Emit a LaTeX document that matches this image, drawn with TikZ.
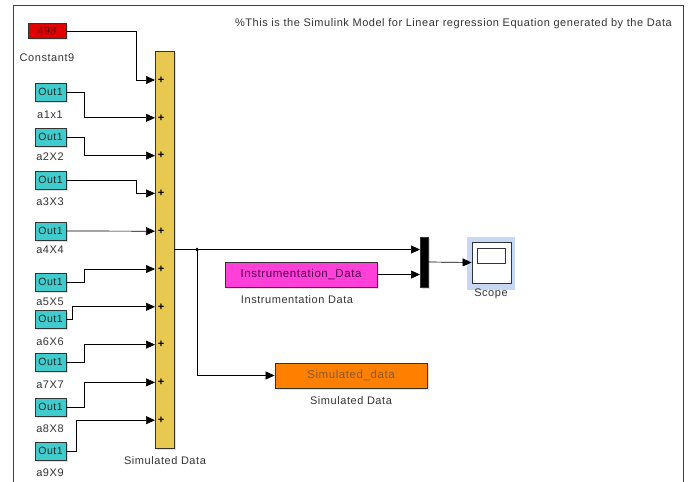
\documentclass[tikz,border=0pt]{standalone}
\usepackage{fontspec}
\setmainfont{Liberation Sans}
\newfontfamily\spacedfont[LetterSpace=5]{Liberation Sans}
\usetikzlibrary{arrows.meta,shadows}
\definecolor{outcyan}{HTML}{40CCCC}
\definecolor{constred}{HTML}{E00000}
\definecolor{sumyellow}{HTML}{E8C850}
\definecolor{instrpink}{HTML}{FF40D8}
\definecolor{simorange}{HTML}{FF8000}
\definecolor{scopeblue}{HTML}{C8D8F4}
\begin{document}
\begin{tikzpicture}[x=1pt,y=-1pt,
      blk/.style={rectangle,draw=black!80,line width=0.8pt,inner sep=0pt,drop shadow={opacity=0.25,shadow xshift=1.5pt,shadow yshift=-1.5pt},font=\spacedfont\fontsize{10.5}{12}\selectfont},
      outblk/.style={blk,fill=outcyan,minimum width=31pt,minimum height=18pt,text=black!85},
      wideblk/.style={blk,minimum width=152pt,minimum height=25pt,font=\spacedfont\fontsize{11.5}{13}\selectfont},
      lbl/.style={inner sep=0pt,font=\spacedfont\fontsize{11}{13}\selectfont,text=black!80},
      plus/.style={inner sep=0pt,font=\bfseries\fontsize{11}{11}\selectfont},
      arr/.style={-{Triangle[length=9pt,width=8pt]},line width=0.7pt}
    ]
      \useasboundingbox (0,0) rectangle (691,482);
      % frame
      \draw[black!75,line width=1pt] (13,482) -- (13,5) -- (683,5) -- (683,482);
      \node[lbl,anchor=east] (title) at (672,24) {\%This is the Simulink Model for Linear regression Equation generated by the Data};

      % sources
      \node[blk,fill=constred,minimum width=38pt,minimum height=15pt,text=red!35!black] (c9) at (47,31) {498};
      \node[lbl] (lc9) at (47,58) {Constant9};
      \node[outblk] (o1) at (50.5,92)  {Out1}; \node[lbl] (l1) at (50,115) {a1x1};
      \node[outblk] (o2) at (50.5,137) {Out1}; \node[lbl] (l2) at (50,157) {a2X2};
      \node[outblk] (o3) at (50.5,180) {Out1}; \node[lbl] (l3) at (50,202) {a3X3};
      \node[outblk] (o4) at (50.5,231) {Out1}; \node[lbl] (l4) at (50,250) {a4X4};
      \node[outblk] (o5) at (50.5,282) {Out1}; \node[lbl] (l5) at (50,302) {a5X5};
      \node[outblk] (o6) at (50.5,319) {Out1}; \node[lbl] (l6) at (50,342) {a6X6};
      \node[outblk] (o7) at (50.5,362) {Out1}; \node[lbl] (l7) at (50,385) {a7X7};
      \node[outblk] (o8) at (50.5,407) {Out1}; \node[lbl] (l8) at (50,429) {a8X8};
      \node[outblk] (o9) at (50.5,451) {Out1}; \node[lbl] (l9) at (50,473) {a9X9};

      % sum block
      \node[blk,fill=sumyellow,minimum width=19pt,minimum height=397pt] (sum) at (164.5,249.5) {};
      \node[lbl] (lsum) at (165,461) {Simulated Data};
      \foreach \k in {1,...,10} {
        \node[plus] (p\k) at (161,{80+37.8*(\k-1)}) {+};
        \coordinate (in\k) at (155,{80+37.8*(\k-1)});
      }

      % wires into sum
      \draw[arr] (c9.east) -- ++(70,0) |- (in1);
      \draw[arr] (o1.east) -- ++(18,0) |- (in2);
      \draw[arr] (o2.east) -- ++(18,0) |- (in3);
      \draw[arr] (o3.east) -- ++(70,0) |- (in4);
      \draw[arr] (o4.east) -- (in5);
      \draw[arr] (o5.east) -- ++(18,0) |- (in6);
      \draw[arr] (o6.east) -- ++(6,0) |- (in7);
      \draw[arr] (o7.east) -- ++(18,0) |- (in8);
      \draw[arr] (o8.east) -- ++(18,0) |- (in9);
      \draw[arr] (o9.east) -- ++(10,0) |- (in10);

      % right part
      \node[blk,fill=black,minimum width=8pt,minimum height=50pt] (mux) at (424,262) {};
      \coordinate (mi1) at (420,249.5);
      \coordinate (mi2) at (420,274.5);
      \node[wideblk,fill=instrpink,text=violet!60!black] (instr) at (301,274.5) {Instrumentation\_Data};
      \node[lbl] (linstr) at (297,300) {Instrumentation Data};
      \node[wideblk,fill=simorange,text=brown!70!black] (sim) at (351,375.5) {Simulated\_data};
      \node[lbl] (lsim) at (351,401) {Simulated Data};
      \node[fill=scopeblue,minimum width=48pt,minimum height=53pt,inner sep=0pt] (scopebg) at (491,263.5) {};
      \node[draw=black!80,fill=white,line width=0.8pt,minimum width=39pt,minimum height=41pt,inner sep=0pt] (scope) at (491.5,262.5) {};
      \node[draw=black!80,line width=0.8pt,minimum width=28pt,minimum height=15pt,inner sep=0pt] (scr) at (491,255.5) {};
      \node[lbl] (lscope) at (491,294) {Scope};

      \coordinate (br) at (197,249.5);
      \draw[line width=0.7pt] (sum.east) -- (br);
      \fill (br) circle (1.8);
      \draw[arr] (br) -- (mi1);
      \draw[arr] (br) |- (sim.west);
      \draw[arr] (instr.east) -- (mi2);
      \draw[arr] (mux.east) -- (scope.west);
    \end{tikzpicture}
\end{document}
